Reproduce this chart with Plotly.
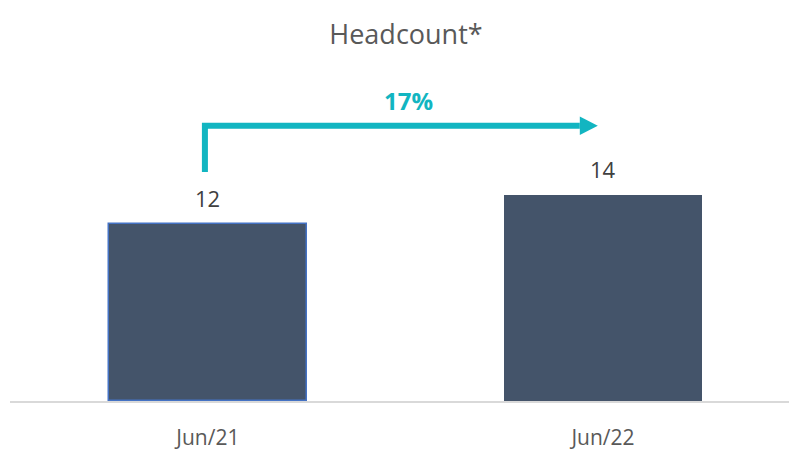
import plotly.graph_objects as go

categories = ["Jun/21", "Jun/22"]
headcount = [12, 14]
growth_label = "17%"
title_text = "Headcount*"

bar_color = "#44546A"
teal = "#12B5C1"
font_family = "Open Sans"
x_idx = list(range(len(categories)))

fig = go.Figure()
fig.add_trace(go.Bar(
    x=x_idx, y=headcount, width=0.5,
    marker=dict(color=bar_color,
                line=dict(color=["#4472C4", bar_color], width=[1.5, 0])),
    showlegend=False, hoverinfo="skip",
))

# value labels
for xi, v in zip(x_idx, headcount):
    fig.add_annotation(x=xi, y=v, text=str(v), showarrow=False,
                       xref="x", yref="y", yanchor="middle", yshift=26,
                       font=dict(size=22, color="#404040", family=font_family))

# elbow arrow
y_start = headcount[0] + 3.53
y_top = max(headcount) + 4.67
x0 = -0.0076
x_end = 0.987
head_len = 0.0456
head_half = 0.633
fig.add_shape(type="path",
              path=f"M {x0} {y_start} L {x0} {y_top} L {x_end - head_len} {y_top}",
              xref="x", yref="y", line=dict(color=teal, width=6))
fig.add_shape(type="path",
              path=(f"M {x_end - head_len} {y_top - head_half} L {x_end} {y_top} "
                    f"L {x_end - head_len} {y_top + head_half} Z"),
              xref="x", yref="y", fillcolor=teal, line=dict(color=teal, width=0))
fig.add_annotation(x=0.509, y=y_top + 1.73, text=f"<b>{growth_label}</b>",
                   showarrow=False, xref="x", yref="y", yanchor="middle",
                   font=dict(size=24, color=teal, family=font_family))

fig.update_layout(
    width=789, height=451,
    margin=dict(l=10, r=0, t=0, b=43),
    paper_bgcolor="white", plot_bgcolor="white",
    title=dict(text=title_text, x=406 / 789, xanchor="center", y=1 - 35 / 451, yanchor="middle",
               font=dict(size=27, color="#595959", family=font_family)),
    xaxis=dict(range=[-0.501, 1.471], tickvals=x_idx, ticktext=categories,
               showgrid=False, zeroline=False, showline=True, linecolor="#D9D9D9",
               linewidth=2, ticks="", tickfont=dict(size=21, color="#595959", family=font_family),
               ticklabelstandoff=17, fixedrange=True),
    yaxis=dict(range=[0, 408 / 15], visible=False, fixedrange=True),
    bargap=0,
)

fig.write_html("out.html", config={"displayModeBar": False},
               post_script="document.body.style.margin='0';document.body.style.overflow='hidden';")
